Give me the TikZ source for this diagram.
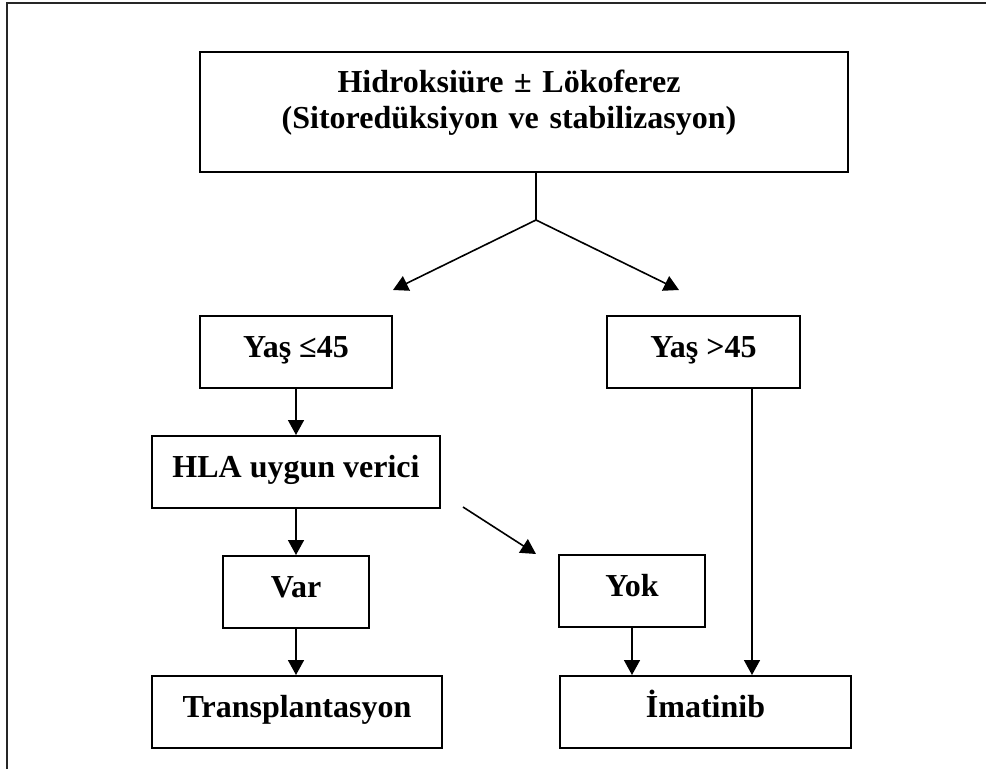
\documentclass[tikz,border=0pt]{standalone}
\usepackage{fontspec}
\setmainfont{Liberation Serif}
\usetikzlibrary{arrows.meta}
\begin{document}
\begin{tikzpicture}[x=1pt,y=-1pt,
  box/.style={draw, line width=1.8pt, inner xsep=0pt, inner ysep=0pt,
    text height=42pt, text depth=30pt, anchor=north,
    font=\fontsize{32pt}{36pt}\selectfont\bfseries},
  conn/.style={line width=1.6pt, -{Triangle[length=15pt,width=16pt]}},
  plain/.style={line width=1.6pt}]
\useasboundingbox (0,0) rectangle (986,769);
% outer frame
\draw[line width=2pt, black!85] (7,769) -- (7,3) -- (986,3);
% nodes
\node[box, text width=648pt, align=left, text height=41pt, text depth=79pt]
  (top) at (524,51) {\makebox[618pt][c]{Hidroksiüre ± Lökoferez}\\\makebox[618pt][c]{(Sitoredüksiyon ve stabilizasyon)}};
\node[box, minimum width=192pt] (yas1) at (296,315) {Yaş ≤45};
\node[box, minimum width=193pt] (yas2) at (703.5,315) {Yaş >45};
\node[box, minimum width=288pt] (hla) at (296,435) {HLA uygun verici};
\node[box, minimum width=146pt] (var) at (296,555) {Var};
\node[box, minimum width=146pt] (yok) at (632,554) {Yok};
\node[box, minimum width=290pt] (trans) at (297,675) {Transplantasyon};
\node[box, minimum width=291pt] (imat) at (705.5,675) {İmatinib};
% coordinates
\coordinate (s0) at (536,171);
\coordinate (j) at (536,220);
\coordinate (tl) at (393,290);
\coordinate (tr) at (679,290);
\coordinate (d1) at (463,507);
\coordinate (d2) at (536,554);
\coordinate (r1) at (752,387);
% connectors
\draw[plain] (s0) -- (j);
\draw[conn] (j) -- (tl);
\draw[conn] (j) -- (tr);
\draw[conn] (yas1.south) -- (yas1.south |- hla.north);
\draw[conn] (hla.south) -- (hla.south |- var.north);
\draw[conn] (var.south) -- (var.south |- trans.north);
\draw[conn] (d1) -- (d2);
\draw[conn] (yok.south) -- (yok.south |- imat.north);
\draw[conn] (r1) -- (r1 |- imat.north);
\end{tikzpicture}
\end{document}
